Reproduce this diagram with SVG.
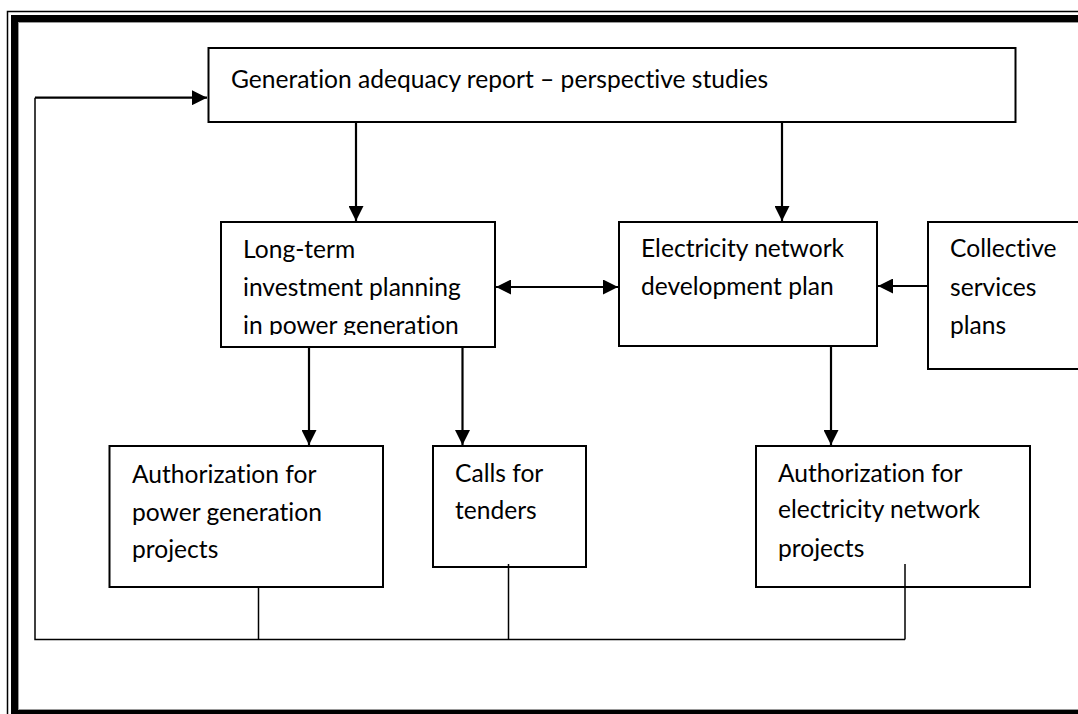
<svg xmlns="http://www.w3.org/2000/svg" width="1078" height="714" viewBox="0 0 1078 714">
<style>
.box{fill:#fff;stroke:#000;stroke-width:2}
.t{font-family:Lato,"Open Sans","Noto Sans",sans-serif;font-size:24.6px;fill:#000;font-variant-ligatures:none}
.c{fill:none;stroke:#000;stroke-width:2.2}
.c2{fill:none;stroke:#000;stroke-width:1.5}
</style>
<defs>
<marker id="ah" markerUnits="userSpaceOnUse" markerWidth="15" markerHeight="15" refX="15" refY="7.5" orient="auto-start-reverse" viewBox="0 0 15 15">
<path d="M0,0 L15,7.5 L0,15 z" fill="#000"/>
</marker>
<clipPath id="clipLT"><rect x="221" y="222" width="274" height="113"/></clipPath>
</defs>
<rect width="1078" height="714" fill="#fff"/>
<g id="frame" fill="none">
<rect x="7.5" y="11.5" width="1100" height="720" stroke="#000" stroke-width="1.5"/>
<rect x="14.5" y="18.5" width="1100" height="695" stroke="#000" stroke-width="7"/>
<rect x="18.5" y="22.5" width="1100" height="687" stroke="#999" stroke-width="1"/>
</g>
<g id="n-report">
<rect class="box" x="208.5" y="48" width="807" height="74"/>
<text class="t" x="231" y="88">Generation adequacy report – perspective studies</text>
</g>
<g id="n-longterm">
<rect class="box" x="221" y="222" width="274" height="125"/>
<g clip-path="url(#clipLT)">
<text class="t" x="243" y="258">Long-term</text>
<text class="t" x="243" y="296">investment planning</text>
<text class="t" x="243" y="334">in power generation</text>
</g>
</g>
<g id="n-network">
<rect class="box" x="619" y="222" width="258" height="124"/>
<text class="t" x="641" y="257">Electricity network</text>
<text class="t" x="641" y="295">development plan</text>
</g>
<g id="n-collective">
<rect class="box" x="928" y="222" width="160" height="147"/>
<text class="t" x="950" y="257">Collective</text>
<text class="t" x="950" y="296">services</text>
<text class="t" x="950" y="334">plans</text>
</g>
<g id="n-authgen">
<rect class="box" x="109.5" y="446" width="273.5" height="141"/>
<text class="t" x="132" y="483">Authorization for</text>
<text class="t" x="132" y="521">power generation</text>
<text class="t" x="132" y="558">projects</text>
</g>
<g id="n-calls">
<rect class="box" x="433" y="446" width="153" height="121"/>
<text class="t" x="455" y="482">Calls for</text>
<text class="t" x="455" y="519">tenders</text>
</g>
<g id="n-authnet">
<rect class="box" x="756" y="446" width="274" height="141"/>
<text class="t" x="778" y="482">Authorization for</text>
<text class="t" x="778" y="518">electricity network</text>
<text class="t" x="778" y="557">projects</text>
</g>
<g id="connectors">
<path class="c" d="M356,122 V221" marker-end="url(#ah)"/>
<path class="c" d="M782,122 V221" marker-end="url(#ah)"/>
<path class="c" d="M496,287 H618" marker-start="url(#ah)" marker-end="url(#ah)"/>
<path class="c" d="M928,286 H878" marker-end="url(#ah)"/>
<path class="c" d="M309,347 V445" marker-end="url(#ah)"/>
<path class="c" d="M462.5,347 V445" marker-end="url(#ah)"/>
<path class="c" d="M831,346 V445" marker-end="url(#ah)"/>
<path class="c2" d="M258.5,587 V639.5"/>
<path class="c2" d="M508.5,564 V639.5"/>
<path class="c2" d="M905,564 V639.5"/>
<path class="c2" d="M905,639.5 H35 V97.7"/>
<path class="c" d="M35,97.7 H207" marker-end="url(#ah)"/>
</g>
</svg>
